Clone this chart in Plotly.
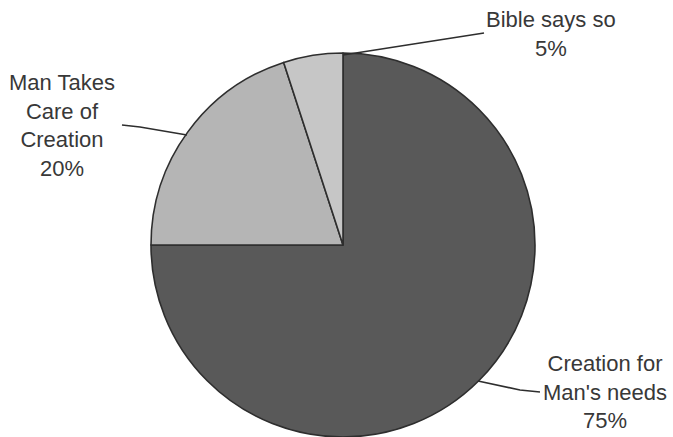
import plotly.graph_objects as go

labels = ["Creation for Man's needs", "Man Takes Care of Creation", "Bible says so"]
values = [75, 20, 5]
label_text = ["Creation for<br>Man's needs<br>75%", "Man Takes<br>Care of<br>Creation<br>20%", "Bible says so<br>5%"]
colors = ["#595959", "#b5b5b5", "#c6c6c6"]

W, H = 673, 437
CX, CY, R = 343, 245, 192

def px(x):
    return x / W

def py(y):
    return 1 - y / H

fig = go.Figure(go.Pie(
    labels=labels, values=values, sort=False, direction="clockwise", rotation=0,
    textinfo="none", hoverinfo="label+percent",
    marker=dict(colors=colors, line=dict(color="#2e2e2e", width=1.6)),
    domain=dict(x=[px(CX - R), px(CX + R)], y=[max(0, py(CY + R)), py(CY - R)]),
    showlegend=False,
))

font = dict(family="Liberation Sans, Arial, sans-serif", size=22, color="#383838")
ann_pos = [(605, 392), (62, 125), (551, 34)]
for txt, (x, y) in zip(label_text, ann_pos):
    fig.add_annotation(x=px(x), y=py(y), xref="paper", yref="paper", text=txt,
                       showarrow=False, xanchor="center", yanchor="middle", font=font)

leaders = [
    [(478, 381), (520, 390), (540, 392)],
    [(187, 135), (140, 127), (122, 125)],
    [(343, 55), (484, 33)],
]
for pts in leaders:
    path = "M " + " L ".join(f"{px(x)},{py(y)}" for x, y in pts)
    fig.add_shape(type="path", path=path, xref="paper", yref="paper",
                  line=dict(color="#2e2e2e", width=1.6))

fig.update_layout(width=W, height=H, margin=dict(l=0, r=0, t=0, b=0),
                  paper_bgcolor="white", plot_bgcolor="white")
fig.write_html("out.html")
